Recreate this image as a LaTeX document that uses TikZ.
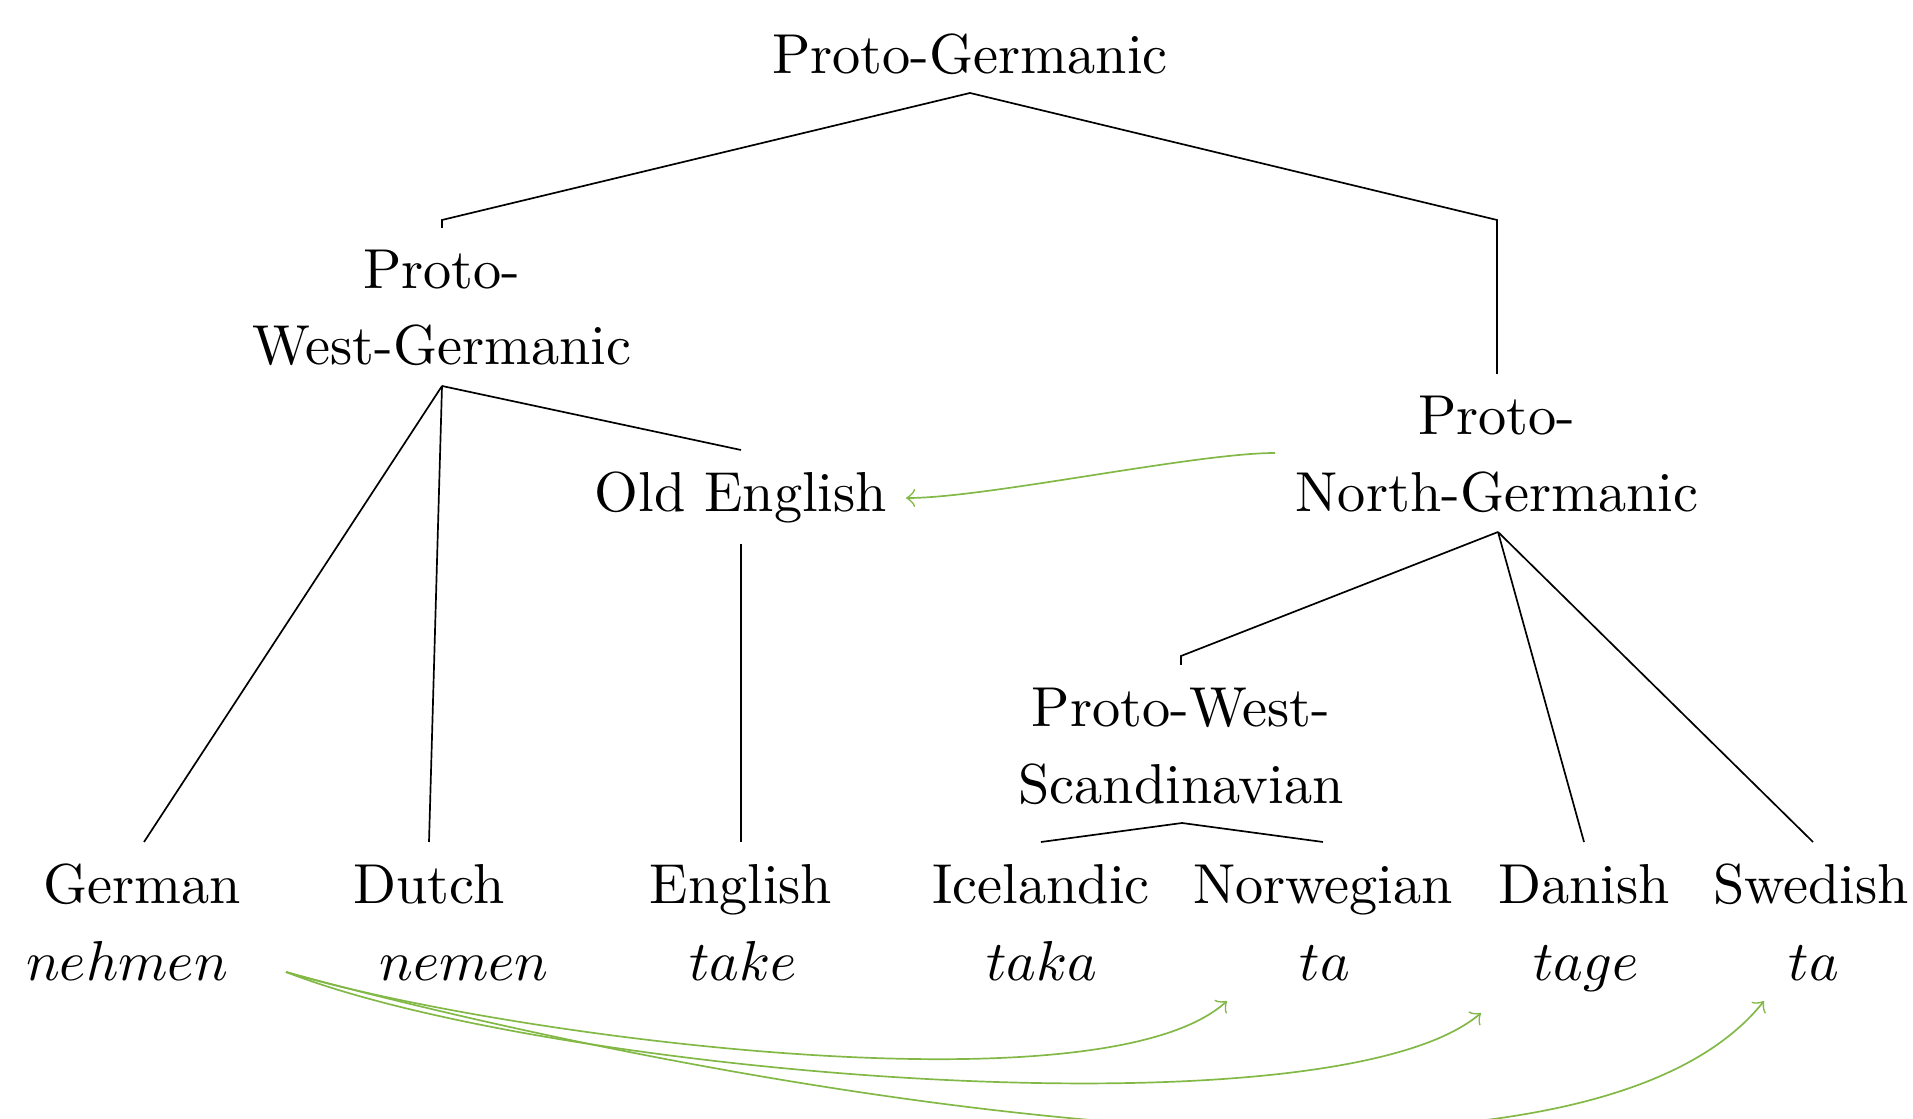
\documentclass[tikz,border=0pt]{standalone}
\begin{document}
\begin{tikzpicture}[x=0.17762pt,y=-0.17762pt,
  lbl/.style={anchor=base,inner sep=0pt},
  edge/.style={draw=black,line width=0.3pt},
  borrow/.style={draw={rgb,255:red,130;green,185;blue,70},line width=0.3pt,->}]
\useasboundingbox (0,0) rectangle (1913,1119);
% text nodes
\node[lbl] (pg) at (970,74) {Proto-Germanic};
\node[lbl] (pwgA) at (442,289) {Proto-};
\node[lbl] (pwgB) at (442,365) {West-Germanic};
\node[lbl] (oe) at (741,512) {Old English};
\node[lbl] (pngA) at (1497,435) {Proto-};
\node[lbl] (pngB) at (1497,512) {North-Germanic};
\node[lbl] (pwsA) at (1181,727) {Proto-West-};
\node[lbl] (pwsB) at (1181,804) {Scandinavian};
\node[lbl] (ger) at (142,904) {German};
\node[lbl] (dut) at (429,904) {Dutch};
\node[lbl] (eng) at (741,904) {English};
\node[lbl] (ice) at (1041,904) {Icelandic};
\node[lbl] (nor) at (1323,904) {Norwegian};
\node[lbl] (dan) at (1584,904) {Danish};
\node[lbl] (swe) at (1811,904) {Swedish};
\node[lbl] (wger) at (127,980) {$nehmen$};
\node[lbl] (wdut) at (464,980) {$nemen$};
\node[lbl] (weng) at (743,980) {$take$};
\node[lbl] (wice) at (1042,980) {$taka$};
\node[lbl] (wnor) at (1325,980) {$ta$};
\node[lbl] (wdan) at (1586,980) {$tage$};
\node[lbl] (wswe) at (1814,980) {$ta$};
% edge anchor points
\coordinate (pgS) at (970,93);
\coordinate (pwgBend) at (442,220);
\coordinate (pwgN) at (442,228);
\coordinate (pngBend) at (1497,220);
\coordinate (pngN) at (1497,374);
\coordinate (pwgS) at (442,386);
\coordinate (oeN) at (741,450);
\coordinate (oeS) at (741,544);
\coordinate (gerN) at (144,842);
\coordinate (dutN) at (429,842);
\coordinate (engN) at (741,842);
\coordinate (pngS) at (1498,532);
\coordinate (pwsBend) at (1181,656);
\coordinate (pwsN) at (1181,665);
\coordinate (pwsS) at (1182,823);
\coordinate (iceN) at (1041,842);
\coordinate (norN) at (1323,842);
\coordinate (danN) at (1584,842);
\coordinate (sweN) at (1813,842);
% tree edges
\draw[edge] (pgS) -- (pwgBend) -- (pwgN);
\draw[edge] (pgS) -- (pngBend) -- (pngN);
\draw[edge] (pwgS) -- (gerN);
\draw[edge] (pwgS) -- (dutN);
\draw[edge] (pwgS) -- (oeN);
\draw[edge] (oeS) -- (engN);
\draw[edge] (pngS) -- (pwsBend) -- (pwsN);
\draw[edge] (pngS) -- (danN);
\draw[edge] (pngS) -- (sweN);
\draw[edge] (pwsS) -- (iceN);
\draw[edge] (pwsS) -- (norN);
% borrowing arrows
\coordinate (pngW) at (1275,453);
\coordinate (oeE) at (906,498);
\draw[borrow] (pngW) to[out=180,in=0,looseness=0.55] (oeE);
\coordinate (wgerE) at (286,972);
\coordinate (tipNor) at (1227,1001);
\coordinate (tipDan) at (1481,1013);
\coordinate (tipSwe) at (1764,1001);
\draw[borrow] (wgerE) .. controls (500,1036) and (1100,1115) .. (tipNor);
\draw[borrow] (wgerE) .. controls (550,1075) and (1330,1140) .. (tipDan);
\draw[borrow] (wgerE) .. controls (650,1072) and (1560,1255) .. (tipSwe);
\end{tikzpicture}
\end{document}
